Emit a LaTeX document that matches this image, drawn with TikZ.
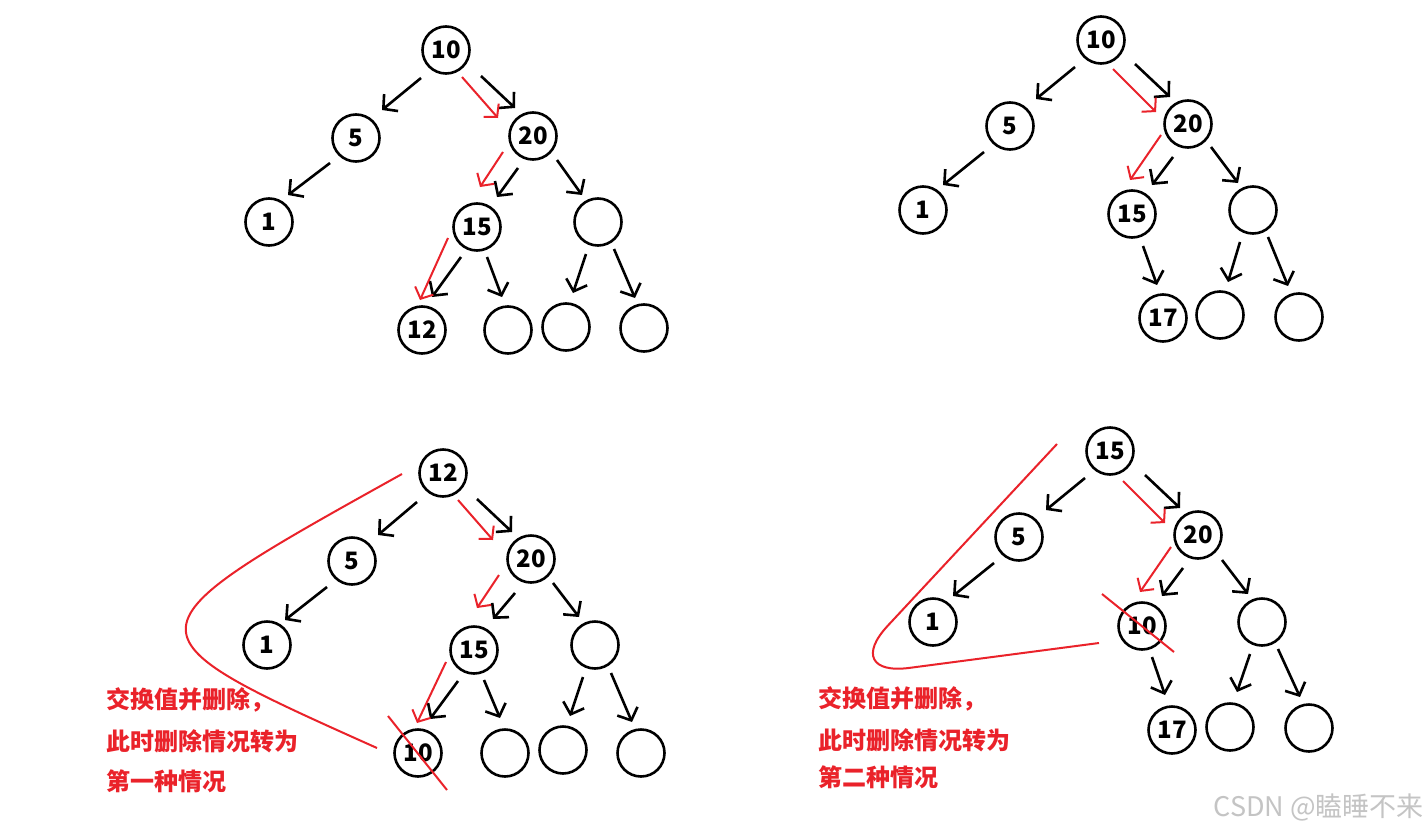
\documentclass[tikz,border=0pt]{standalone}
\usepackage{fontspec}
\setmainfont{Noto Sans CJK SC}
\usetikzlibrary{arrows.meta,calc}
\definecolor{hred}{RGB}{234,34,42}
\definecolor{wmgray}{RGB}{196,196,196}
\newcommand\tconn[5]{\draw[#1] ($(#2)+(#3)$) -- ($(#4)+(#5)$);}
\begin{document}
\begin{tikzpicture}[x=1pt,y=-1pt,
  nd/.style={circle,draw=black,line width=2.6pt,minimum size=47pt,inner sep=0pt,font=\fontsize{24}{24}\selectfont\bfseries},
  arr/.style={draw=black,line width=2.6pt,-{Straight Barb[length=10pt,width=22pt]}},
  rarr/.style={draw=hred,line width=2pt,-{Straight Barb[length=9pt,width=20pt]}},
  redline/.style={draw=hred,line width=2pt},
  note/.style={text=hred,font=\fontsize{24}{24}\selectfont\bfseries,anchor=base west,inner sep=0pt},
  wmark/.style={text=wmgray,font=\fontsize{27}{27}\selectfont,anchor=base east,inner sep=0pt}]
\useasboundingbox[fill=white] (0,0) rectangle (1427,830);

% ---------------- Tree 1 (top left)
\node[nd] (a1) at (446,50) {10};
\node[nd] (a2) at (356,138) {5};
\node[nd] (a3) at (269,222) {1};
\node[nd] (a4) at (533,136) {20};
\node[nd] (a5) at (477,227) {15};
\node[nd] (a6) at (598,222) {};
\node[nd] (a7) at (422,330) {12};
\node[nd] (a8) at (508,330) {};
\node[nd] (a9) at (566,327) {};
\node[nd] (a10) at (644,328) {};
\tconn{arr}{a1}{-25,28}{a2}{26,-28}
\tconn{arr}{a1}{35,26}{a4}{-18,-28}
\tconn{rarr}{a1}{16,27}{a4}{-35,-18}
\tconn{arr}{a2}{-26,25}{a3}{19,-27}
\tconn{arr}{a4}{-15,32}{a5}{20,-30}
\tconn{rarr}{a4}{-30,16}{a5}{3,-40}
\tconn{arr}{a4}{24,24}{a6}{-16,-27}
\tconn{arr}{a5}{-16,30}{a7}{10,-33}
\tconn{rarr}{a5}{-29,11}{a7}{-2,-30}
\tconn{arr}{a5}{10,30}{a8}{-6,-33}
\tconn{arr}{a6}{-12,32}{a9}{7,-34}
\tconn{arr}{a6}{16,27}{a10}{-9,-30}

% ---------------- Tree 2 (top right)
\node[nd] (b1) at (1101,40) {10};
\node[nd] (b2) at (1010,126) {5};
\node[nd] (b3) at (923,210) {1};
\node[nd] (b4) at (1188,124) {20};
\node[nd] (b5) at (1132,214) {15};
\node[nd] (b6) at (1253,210) {};
\node[nd] (b7) at (1163,318) {17};
\node[nd] (b8) at (1220,315) {};
\node[nd] (b9) at (1299,317) {};
\tconn{arr}{b1}{-26,27}{b2}{26,-27}
\tconn{arr}{b1}{34,24}{b4}{-18,-27}
\tconn{rarr}{b1}{12,29}{b4}{-32,-12}
\tconn{arr}{b2}{-26,26}{b3}{20,-25}
\tconn{arr}{b4}{-15,33}{b5}{20,-29}
\tconn{rarr}{b4}{-27,11}{b5}{-2,-34}
\tconn{arr}{b4}{23,23}{b6}{-15,-27}
\tconn{arr}{b5}{11,32}{b7}{-6,-33}
\tconn{arr}{b6}{-13,32}{b8}{8,-33}
\tconn{arr}{b6}{15,27}{b9}{-11,-31}

% ---------------- Tree 3 (bottom left)
\node[nd] (c1) at (443,473) {12};
\node[nd] (c2) at (352,561) {5};
\node[nd] (c3) at (267,645) {1};
\node[nd] (c4) at (531,559) {20};
\node[nd] (c5) at (474,650) {15};
\node[nd] (c6) at (595,645) {};
\node[nd] (c7) at (418,753) {10};
\node[nd] (c8) at (505,753) {};
\node[nd] (c9) at (563,750) {};
\node[nd] (c10) at (641,753) {};
\tconn{arr}{c1}{-26,29}{c2}{26,-26}
\tconn{arr}{c1}{34,26}{c4}{-19,-27}
\tconn{rarr}{c1}{15,27}{c4}{-38,-19}
\tconn{arr}{c2}{-25,26}{c3}{18,-25}
\tconn{arr}{c4}{-16,34}{c5}{19,-31}
\tconn{rarr}{c4}{-32,16}{c5}{3,-42}
\tconn{arr}{c4}{22,24}{c6}{-16,-28}
\tconn{arr}{c5}{-16,31}{c7}{12,-34}
\tconn{rarr}{c5}{-28,12}{c7}{-1,-30}
\tconn{arr}{c5}{10,30}{c8}{-5,-35}
\tconn{arr}{c6}{-12,32}{c9}{7,-34}
\tconn{arr}{c6}{16,28}{c10}{-9,-31}
\draw[redline] ($(c7)+(-30,-37)$) -- ($(c7)+(29,37)$);
\draw[redline] ($(c1)+(-41,1)$) .. controls (118,632) .. ($(c7)+(-41,-5)$);
\node[note] (t1a) at (106,708) {交换值并删除，};
\node[note] (t1b) at (106,750) {此时删除情况转为};
\node[note] (t1c) at (106,790) {第一种情况};

% ---------------- Tree 4 (bottom right)
\node[nd] (d1) at (1110,451) {15};
\node[nd] (d2) at (1019,537) {5};
\node[nd] (d3) at (933,622) {1};
\node[nd] (d4) at (1198,535) {20};
\node[nd] (d5) at (1142,626) {10};
\node[nd] (d6) at (1262,622) {};
\node[nd] (d7) at (1172,730) {17};
\node[nd] (d8) at (1230,727) {};
\node[nd] (d9) at (1309,728) {};
\tconn{arr}{d1}{-25,27}{d2}{27,-27}
\tconn{arr}{d1}{35,24}{d4}{-18,-27}
\tconn{rarr}{d1}{13,30}{d4}{-33,-12}
\tconn{arr}{d2}{-25,26}{d3}{20,-26}
\tconn{arr}{d4}{-15,33}{d5}{20,-30}
\tconn{rarr}{d4}{-27,12}{d5}{-2,-34}
\tconn{arr}{d4}{24,25}{d6}{-14,-28}
\tconn{arr}{d5}{10,31}{d7}{-7,-35}
\tconn{arr}{d6}{-12,32}{d8}{7,-35}
\tconn{arr}{d6}{16,27}{d9}{-9,-31}
\draw[redline] ($(d5)+(-40,-32)$) -- ($(d5)+(32,26)$);
\draw[redline,rounded corners=70pt] ($(d1)+(-53,-7)$) -- (840,677) -- ($(d5)+(-43,17)$);
\node[note] (t2a) at (818,707) {交换值并删除，};
\node[note] (t2b) at (818,749) {此时删除情况转为};
\node[note] (t2c) at (818,786) {第二种情况};

% watermark
\node[wmark] (wm) at (1424,816) {CSDN @瞌睡不来};
\end{tikzpicture}
\end{document}
